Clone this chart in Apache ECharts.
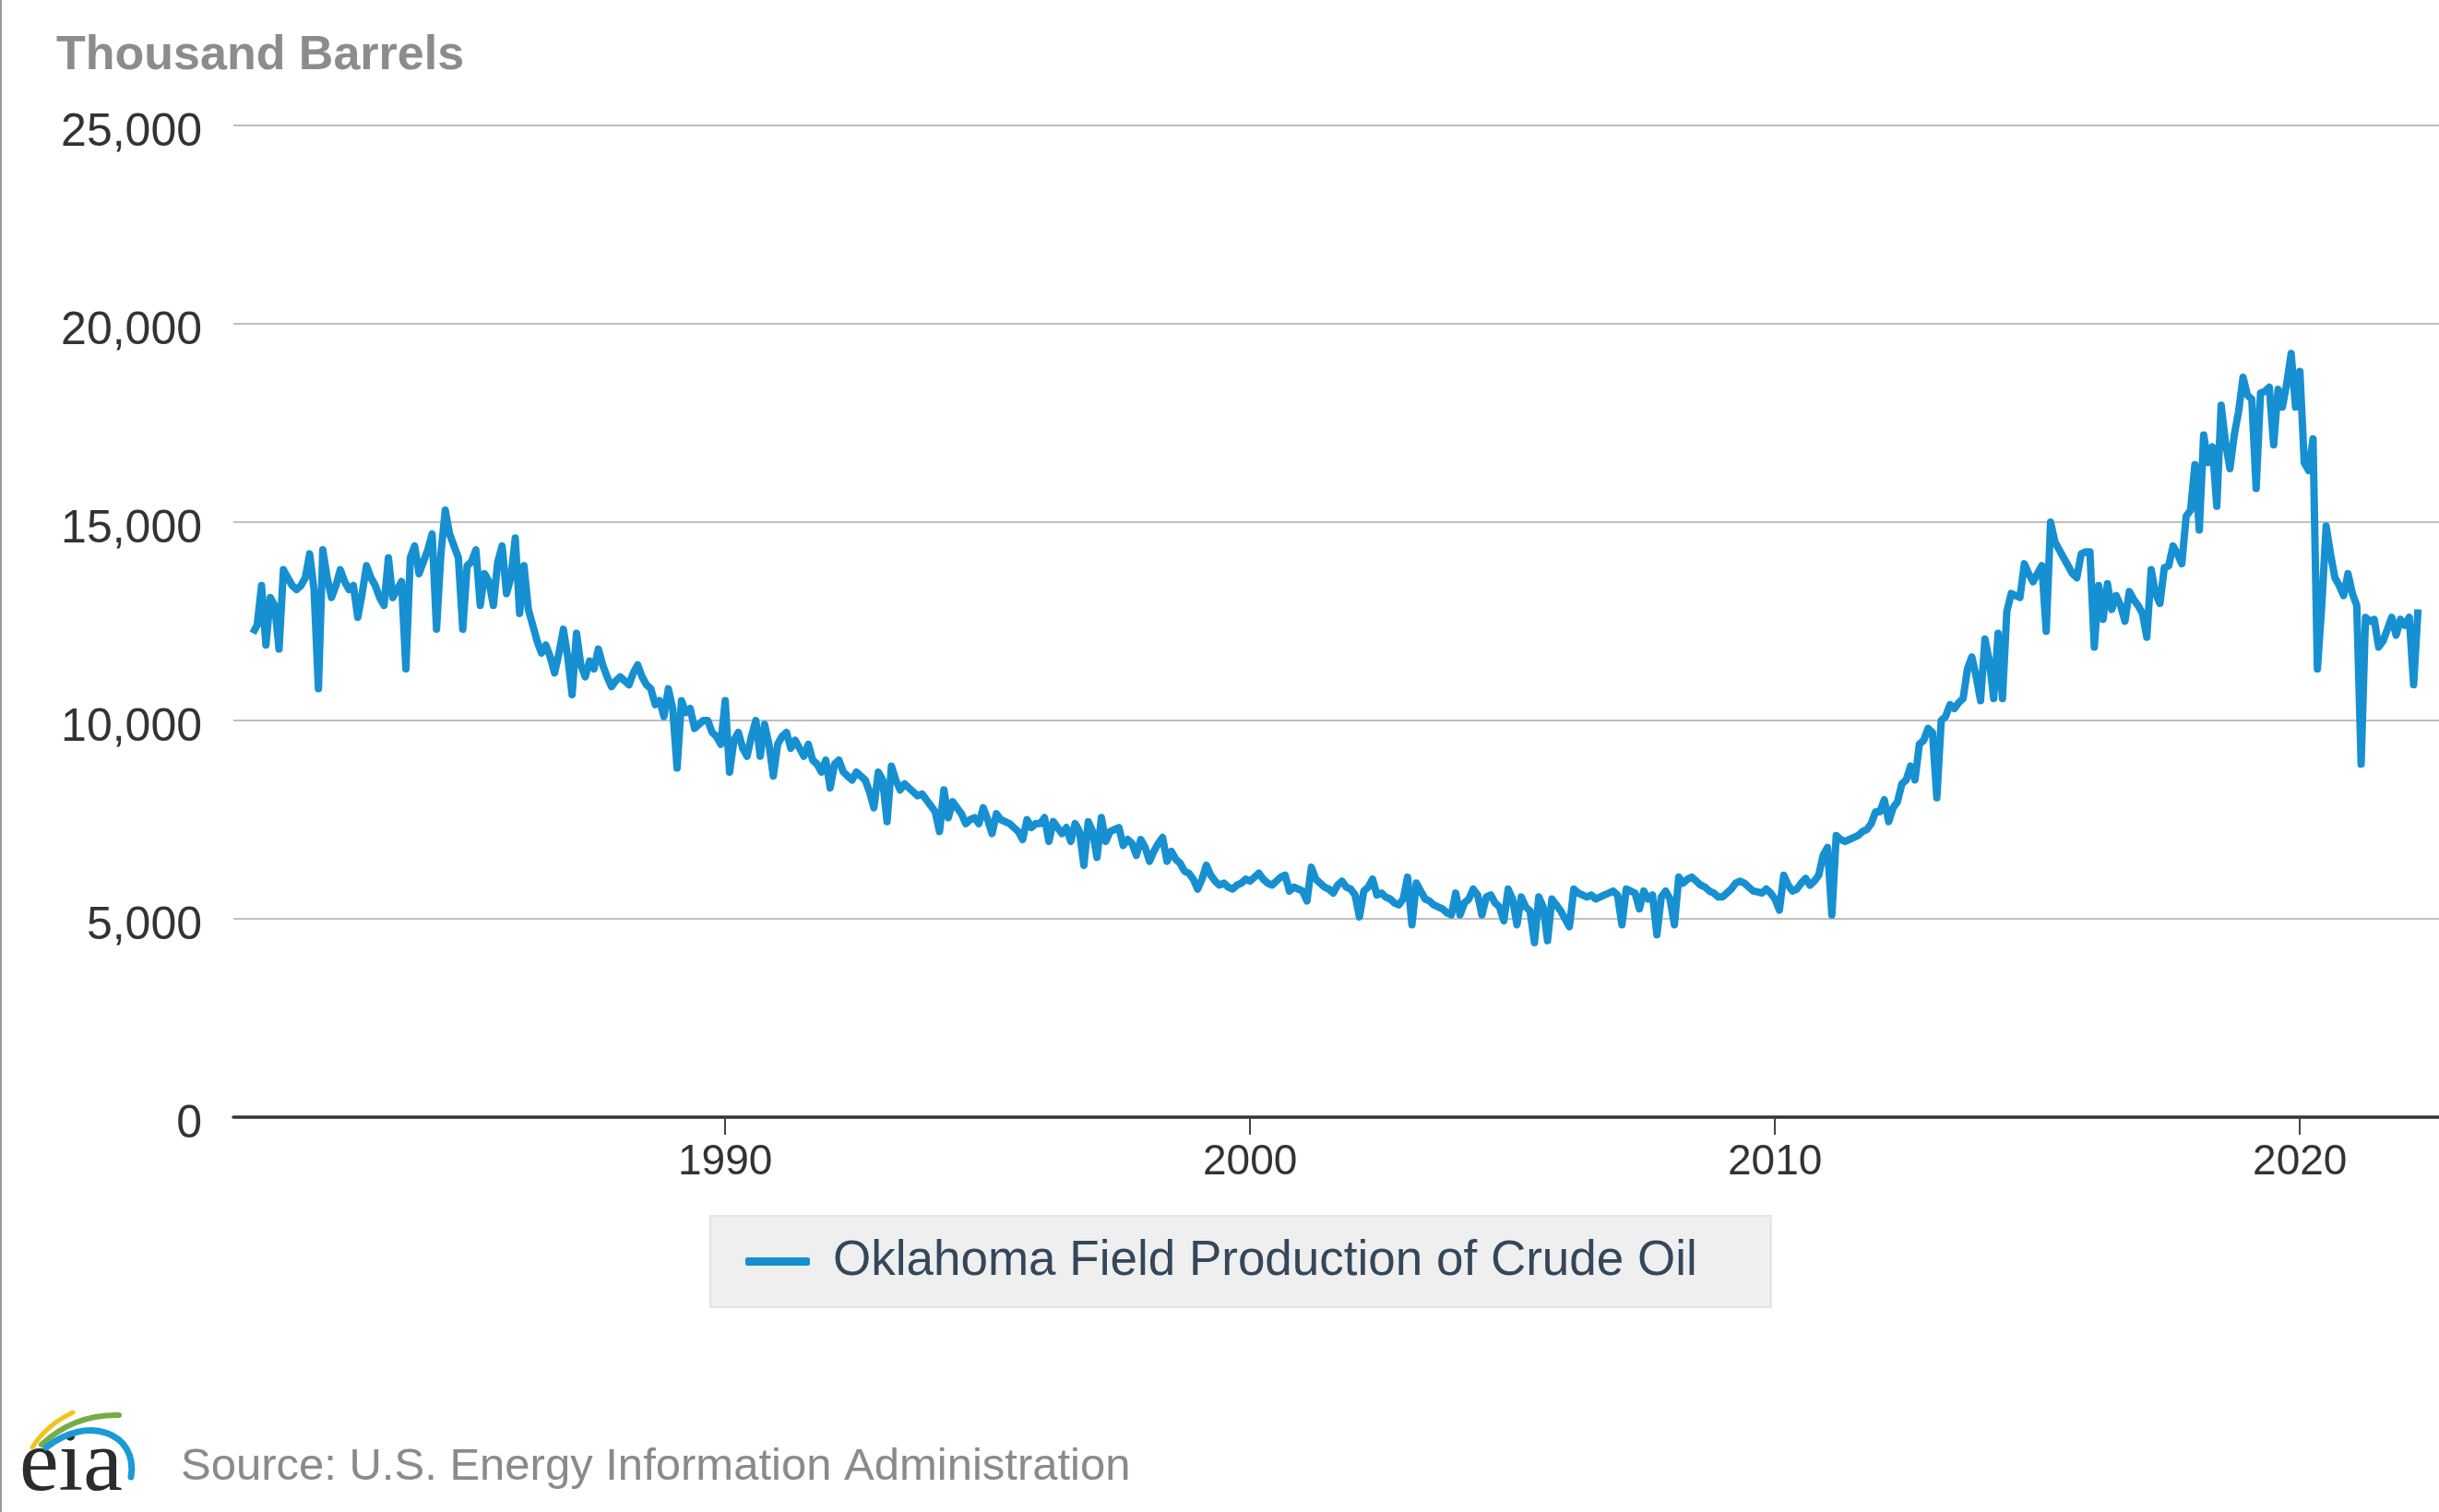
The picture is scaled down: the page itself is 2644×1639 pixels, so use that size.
<!DOCTYPE html>
<html>
<head>
<meta charset="utf-8">
<script src="https://cdn.jsdelivr.net/npm/echarts@6/dist/echarts.min.js"></script>
<style>
  html, body { margin: 0; padding: 0; background: #ffffff; }
  #chart { width: 2644px; height: 1639px; }
</style>
</head>
<body>
<div id="chart"></div>
<script>
// Monthly Oklahoma field production of crude oil, thousand barrels
const startYear = 1981;
const prod1980s = [
  12200, 12400, 13400, 11900, 13100, 12900, 11800, 13800, 13600, 13400, 13300, 13400, // 1981
  13600, 14200, 13300, 10800, 14300, 13600, 13100, 13400, 13800, 13500, 13300, 13400, // 1982
  12600, 13200, 13900, 13600, 13400, 13100, 12900, 14100, 13100, 13300, 13500, 11300, // 1983
  14100, 14400, 13700, 14000, 14300, 14700, 12300, 14200, 15300, 14700, 14400, 14100, // 1984
  12300, 13900, 14000, 14300, 12900, 13700, 13500, 12900, 14000, 14400, 13200, 13600, // 1985
  14600, 12700, 13900, 12800, 12400, 12000, 11700, 11900, 11600, 11200, 11700, 12300, // 1986
  11600, 10650, 12200, 11400, 11100, 11500, 11300, 11800, 11400, 11100, 10850, 11000, // 1987
  11100, 11000, 10900, 11200, 11400, 11100, 10900, 10800, 10400, 10500, 10100, 10800, // 1988
  10300, 8800, 10500, 10200, 10300, 9800, 9900, 10000, 10000, 9700, 9600, 9400        // 1989
];
const prod1990s = [
  10500, 8700, 9500, 9700, 9300, 9100, 9600, 10000, 9100, 9900, 9400, 8600,   // 1990
  9400, 9600, 9700, 9300, 9500, 9300, 9100, 9400, 9000, 8900, 8700, 9000,     // 1991
  8300, 8900, 9000, 8700, 8600, 8500, 8700, 8600, 8500, 8200, 7800, 8700,     // 1992
  8500, 7450, 8850, 8500, 8250, 8400, 8300, 8200, 8100, 8150, 8000, 7850,     // 1993
  7700, 7200, 8250, 7550, 7950, 7800, 7650, 7400, 7500, 7550, 7400, 7800,     // 1994
  7500, 7150, 7650, 7500, 7450, 7400, 7300, 7200, 7000, 7500, 7300, 7400,     // 1995
  7400, 7550, 6950, 7450, 7300, 7150, 7300, 6950, 7400, 7200, 6350, 7450,     // 1996
  7200, 6550, 7550, 6950, 7200, 7250, 7300, 6850, 7000, 6900, 6600, 7000,     // 1997
  6800, 6450, 6700, 6900, 7050, 6450, 6700, 6500, 6400, 6200, 6150, 6000,     // 1998
  5750, 6000, 6350, 6100, 5950, 5850, 5900, 5800, 5750, 5850, 5900, 6000      // 1999
];
const prod2000s = [
  5950, 6050, 6150, 6000, 5900, 5850, 5950, 6050, 6100, 5700, 5800, 5750,     // 2000
  5700, 5450, 6300, 6000, 5900, 5800, 5750, 5650, 5850, 5950, 5800, 5750,     // 2001
  5600, 5050, 5700, 5800, 6000, 5600, 5650, 5550, 5500, 5400, 5350, 5500,     // 2002
  6050, 4850, 5900, 5700, 5500, 5450, 5350, 5300, 5250, 5150, 5100, 5650,     // 2003
  5100, 5400, 5500, 5750, 5600, 5100, 5550, 5600, 5400, 5300, 4950, 5750,     // 2004
  5500, 4850, 5550, 5300, 5200, 4400, 5550, 5300, 4450, 5500, 5350, 5200,     // 2005
  5000, 4800, 5750, 5650, 5600, 5550, 5600, 5500, 5550, 5600, 5650, 5700,     // 2006
  5600, 4850, 5750, 5700, 5650, 5250, 5700, 5500, 5600, 4600, 5550, 5700,     // 2007
  5500, 4850, 6050, 5900, 6000, 6050, 5950, 5850, 5800, 5700, 5650, 5550,     // 2008
  5550, 5650, 5750, 5900, 5950, 5900, 5800, 5700, 5680, 5650, 5750, 5650      // 2009
];
const prod2010s = [
  5500, 5220, 6100, 5850, 5700, 5750, 5900, 6020, 5850, 5950, 6100, 6600,     // 2010
  6800, 5100, 7100, 7000, 6950, 7000, 7050, 7100, 7200, 7250, 7400, 7700,     // 2011
  7700, 8000, 7450, 7800, 7950, 8400, 8500, 8850, 8500, 9400, 9500, 9800,     // 2012
  9700, 8050, 10000, 10100, 10400, 10300, 10450, 10550, 11300, 11600, 11100, 10500, // 2013
  12050, 11500, 10550, 12200, 10550, 12750, 13200, 13150, 13100, 13950, 13700, 13500, // 2014
  13700, 13900, 12250, 15000, 14500, 14300, 14100, 13900, 13700, 13600, 14200, 14250, // 2015
  14250, 11850, 13400, 12550, 13450, 12800, 13150, 12900, 12500, 13250, 13050, 12900, // 2016
  12700, 12100, 13800, 13200, 12950, 13850, 13900, 14400, 14200, 13950, 15150, 15300, // 2017
  16450, 14800, 17200, 16500, 16900, 15400, 17950, 17000, 16350, 17200, 17800, 18650, // 2018
  18200, 18100, 15850, 18250, 18300, 18400, 16950, 18350, 17900, 18500, 19250, 17900  // 2019
];
const prod2020s = [
  18800, 16500, 16300, 17100, 11300, 12900, 14900, 14200, 13600, 13400, 13150, 13700, // 2020
  13200, 12900, 8900, 12600, 12500, 12550, 11850, 12000, 12300, 12600, 12150, 12550,  // 2021
  12400, 12600, 10900, 12800                                                          // 2022
];
const yearTicks = [1990, 2000, 2010, 2020];
const seriesName = 'Oklahoma Field Production of Crude Oil';
const unitLabel = 'Thousand Barrels';
const sourceLabel = 'Source: U.S. Energy Information Administration';

const monthly = prod1980s.concat(prod1990s, prod2000s, prod2010s, prod2020s);
const seriesData = monthly.map((v, i) => [startYear + i / 12, v]);

const chart = echarts.init(document.getElementById('chart'), null, { renderer: 'canvas' });
const FONT = '"Liberation Sans", Arial, sans-serif';

chart.setOption({
  backgroundColor: '#ffffff',
  animation: false,
  textStyle: { fontFamily: FONT },
  grid: { left: 253, right: 0, top: 136, bottom: 428, containLabel: false },
  title: {
    text: unitLabel,
    left: 56, top: 30,
    textStyle: { fontFamily: FONT, fontSize: 52, fontWeight: 'bold', color: '#8c8c8c' }
  },
  legend: {
    data: [{ name: seriesName, icon: 'roundRect' }],
    left: 770, top: 1318,
    padding: [23, 80, 23, 38],
    itemWidth: 70, itemHeight: 9,
    backgroundColor: '#efefef',
    borderColor: '#e3e3e3', borderWidth: 2,
    textStyle: { fontFamily: FONT, fontSize: 53, color: '#34475a', padding: [0, 0, 0, 20] }
  },
  xAxis: {
    type: 'value',
    min: 1980.63, max: 2022.65,
    splitLine: { show: false },
    axisLine: { show: true, onZero: false, lineStyle: { color: '#333333', width: 3.5 } },
    axisTick: { show: true, customValues: yearTicks, length: 19, lineStyle: { color: '#444444', width: 2 } },
    axisLabel: { customValues: yearTicks, fontSize: 46, color: '#333333', margin: 26, fontFamily: FONT,
                 formatter: v => String(Math.round(v)) }
  },
  yAxis: {
    type: 'value',
    min: 0, max: 25000, interval: 5000,
    axisLine: { show: false },
    axisTick: { show: false },
    splitLine: { show: true, lineStyle: { color: '#bfbfbf', width: 2 } },
    axisLabel: {
      margin: 34,
      formatter: v => '{a|' + v.toLocaleString('en-US') + '}',
      rich: { a: { fontSize: 50, color: '#333333', fontFamily: FONT, padding: [16, 0, 0, 0] } }
    }
  },
  series: [{
    name: seriesName,
    type: 'line',
    data: seriesData,
    symbol: 'none',
    showSymbol: false,
    lineStyle: { color: '#1790d2', width: 8, join: 'round' },
    itemStyle: { color: '#1790d2' },
    z: 3
  }],
  graphic: [
    { type: 'rect', left: 0, top: 0, shape: { width: 2, height: 1639 }, style: { fill: '#9a9a9a' } },
    { type: 'text', left: 196, top: 1566,
      style: { text: sourceLabel, fontFamily: FONT, fontSize: 49, fill: '#8a8a8a' } },
    { type: 'text', x: 21, y: 1590,
      style: { text: 'eia', font: '96px "Liberation Serif", "DejaVu Serif", serif', fill: '#2b2b2b', verticalAlign: 'middle' } },
    { type: 'bezierCurve', shape: { x1: 35, y1: 1569, cpx1: 50, cpy1: 1545, x2: 79, y2: 1531 },
      style: { stroke: '#f0c419', lineWidth: 5, fill: null, lineCap: 'round' } },
    { type: 'bezierCurve', shape: { x1: 45, y1: 1566, cpx1: 80, cpy1: 1533, x2: 129, y2: 1534 },
      style: { stroke: '#73ae44', lineWidth: 6, fill: null, lineCap: 'round' } },
    { type: 'bezierCurve', shape: { x1: 50, y1: 1569, cpx1: 95, cpy1: 1533, cpx2: 150, cpy2: 1553, x2: 142, y2: 1601 },
      style: { stroke: '#1b9ad6', lineWidth: 7, fill: null, lineCap: 'round' } }
  ]
});
</script>
</body>
</html>
